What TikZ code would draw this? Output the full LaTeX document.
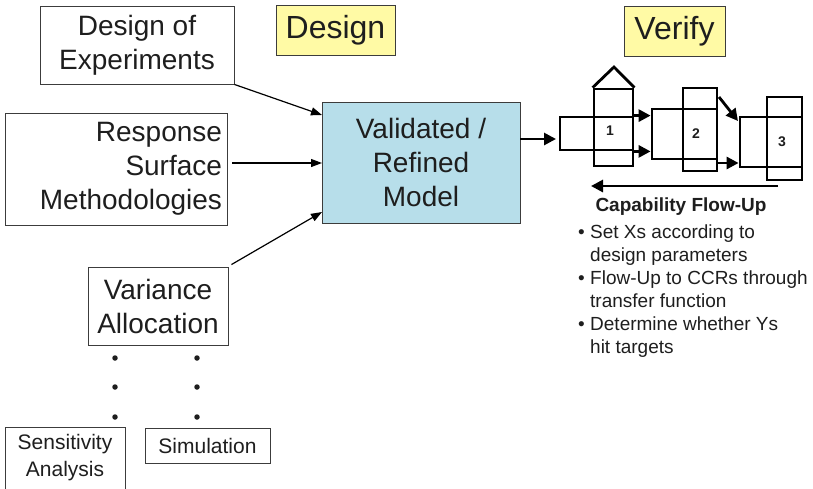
\documentclass[tikz,border=0pt]{standalone}
\usepackage{fontspec}
\setmainfont{Liberation Sans}
\usetikzlibrary{arrows.meta}
\definecolor{txt}{RGB}{30,30,30}
\definecolor{bord}{RGB}{60,60,60}
\definecolor{modelblue}{RGB}{183,222,234}
\definecolor{labyellow}{RGB}{255,250,165}
\tikzset{
  box/.style={draw=bord, line width=0.9pt, inner sep=0pt, text=txt, align=center},
  big/.style={font=\fontsize{28}{34}\selectfont},
  small/.style={font=\fontsize{21}{27}\selectfont},
  phase/.style={box, fill=labyellow, font=\fontsize{32}{36}\selectfont},
  feed/.style={draw=black, line width=1.2pt, -{Triangle[length=11pt,width=8pt]}},
  vbox/.style={draw=black, line width=2.8pt, inner sep=0pt},
  varrow/.style={draw=black, line width=2.8pt, -{Triangle[length=12pt,width=12pt]}},
  num/.style={font=\fontsize{14}{14}\selectfont\bfseries, text=txt},
  dotmark/.style={circle, fill=txt, inner sep=0pt, minimum size=5.5pt},
  bul/.style={font=\fontsize{19}{22.8}\selectfont, text=txt, align=left, anchor=north west, inner sep=0pt}
}
\newcommand{\bitem}{\makebox[12pt][l]{•}}
\newcommand{\bcont}{\hspace*{12pt}}
\begin{document}
\begin{tikzpicture}[x=1pt,y=-1pt]
\useasboundingbox (0,0) rectangle (813,488);
\clip (0,0) rectangle (813,488);
% left boxes
\node[box,big,minimum width=194pt,minimum height=78pt] (doe) at (137,45) {Design of\\Experiments};
\node[box,big,minimum width=222pt,minimum height=112pt,text width=212pt,align=right] (rsm) at (116,169) {Response\\Surface\\Methodologies};
\node[box,big,minimum width=140pt,minimum height=78pt] (var) at (158,306) {Variance\\Allocation};
\node[box,big,fill=modelblue,minimum width=198pt,minimum height=121pt] (model) at (421,162.5) {Validated /\\Refined\\Model};
\node[phase,minimum width=119pt,minimum height=50pt] (design) at (335.5,30) {Design};
\node[phase,minimum width=101pt,minimum height=50pt] (verify) at (674.5,31) {Verify};
\node[box,small,minimum width=120pt,minimum height=62pt] (sens) at (65,458) {Sensitivity\\Analysis};
\node[box,small,minimum width=125pt,minimum height=35pt] (sim) at (207.5,445.5) {Simulation};
% dots
\foreach \yy [count=\i] in {358,387,417}{
  \node[dotmark] (da\i) at (115,\yy) {};
  \node[dotmark] (db\i) at (197,\yy) {};
}
% arrows into model
\coordinate (m1) at (322,115);
\coordinate (m2) at (322,163);
\coordinate (m3) at (322,212);
\draw[feed] (doe.south east) -- (m1);
\draw[feed] (rsm.east |- m2) ++(5,0) -- (m2);
\draw[feed] (var.north east) ++(3,-2) -- (m3);
% verify diagram
\node[vbox,minimum width=73pt,minimum height=33pt] (b1h) at (596.5,133.5) {};
\node[vbox,minimum width=39pt,minimum height=77pt] (b1v) at (613.5,127.5) {};
\draw[black,line width=2.8pt,line join=miter] (b1v.north west) -- (614,67) -- (b1v.north east);
\node[num] (n1) at (610,131) {1};
\node[vbox,minimum width=65pt,minimum height=50pt] (b2h) at (684.5,134) {};
\node[vbox,minimum width=34pt,minimum height=83pt] (b2v) at (700,129.5) {};
\node[num] (n2) at (696,134) {2};
\node[vbox,minimum width=62pt,minimum height=50pt] (b3h) at (771,142) {};
\node[vbox,minimum width=35pt,minimum height=83pt] (b3v) at (784.5,138.5) {};
\node[num] (n3) at (782,142) {3};
% verify arrows
\coordinate (in1) at (556,139);
\draw[varrow] (model.east |- in1) -- (in1);
\draw[varrow] (b1h.north east) -- (b2h.north west |- b1h.north east);
\draw[varrow] (b1h.south east) -- (b2h.west |- b1h.south east);
\coordinate (d1) at (719,97);
\coordinate (d2) at (738,121);
\draw[varrow] (d1) -- (d2);
\coordinate (e1) at (717,163);
\draw[varrow] (e1) -- (b3h.west |- e1);
\coordinate (f1) at (778,186);
\coordinate (f2) at (591,186);
\draw[varrow] (f1) -- (f2);
% capability text
\node[font=\fontsize{19}{22}\selectfont\bfseries, text=txt] (cap) at (681,207) {Capability Flow-Up};
\node[bul] (t1) at (578,225) {\bitem Set Xs according to\\\bcont design parameters};
\node[bul] (t2) at (578,271) {\bitem Flow-Up to CCRs through\\\bcont transfer function};
\node[bul] (t3) at (578,317) {\bitem Determine whether Ys\\\bcont hit targets};
\end{tikzpicture}
\end{document}
